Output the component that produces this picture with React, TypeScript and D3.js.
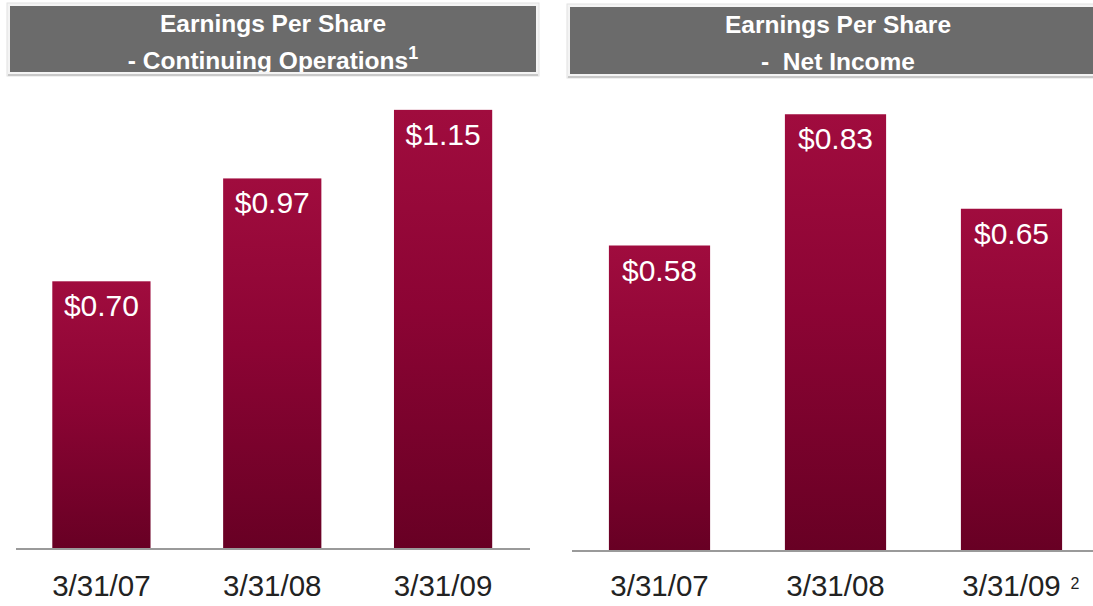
import React from 'react';
import * as d3 from 'd3';

const categories = ['3/31/07', '3/31/08', '3/31/09'];
const continuingEps = [0.7, 0.97, 1.15];
const netIncomeEps = [0.58, 0.83, 0.65];
const leftTitle = ['Earnings Per Share', '- Continuing Operations'];
const rightTitle = ['Earnings Per Share', '-\u00a0 Net Income'];

const FONT = 'Liberation Sans, Arial, Helvetica, sans-serif';

type PanelProps = {
  id: string;
  values: number[];
  xRange: [number, number];
  baseY: number;
  yMax: number;
  yTop: number;
  lineX: [number, number];
};

function Panel({ id, values, xRange, baseY, yMax, yTop, lineX }: PanelProps) {
  const x = d3.scaleBand<string>().domain(categories).range(xRange).paddingInner(0.425).paddingOuter(0.2125);
  const y = d3.scaleLinear().domain([0, yMax]).range([baseY, yTop]);
  return (
    <g>
      {categories.map((c, i) => {
        const bx = x(c)!;
        const by = y(values[i]);
        return (
          <g key={c}>
            <rect x={bx} y={by} width={x.bandwidth()} height={baseY - by} fill={`url(#grad-${id})`} />
            <text x={bx + x.bandwidth() / 2} y={by + 35} fill="#fff" fontSize={30} fontFamily={FONT} textAnchor="middle">
              {d3.format('$.2f')(values[i])}
            </text>
            <text x={bx + x.bandwidth() / 2} y={596} fill="#222" fontSize={29.5} fontFamily={FONT} textAnchor="middle">
              {c}
            </text>
          </g>
        );
      })}
      <line x1={lineX[0]} x2={lineX[1]} y1={baseY + 1} y2={baseY + 1} stroke="#9a9a9a" strokeWidth={2} />
    </g>
  );
}

function Header({ id, x0, x1, y0, y1, lines, sup, cx }: { id: string; x0: number; x1: number; y0: number; y1: number; lines: string[]; sup?: string; cx: number }) {
  return (
    <g>
      <rect x={x0 - 3} y={y0 - 3} width={x1 - x0 + 6} height={y1 - y0 + 7} fill="#f4f4f4" stroke="#e2e2e2" />
      <line x1={x0 - 2} x2={x1 + 2} y1={y1 + 3} y2={y1 + 3} stroke="#c8c8c8" strokeWidth={2} />
      <clipPath id={`clip-${id}`}>
        <rect x={x0} y={y0} width={x1 - x0} height={y1 - y0} />
      </clipPath>
      <rect x={x0} y={y0} width={x1 - x0} height={y1 - y0} fill="#6b6b6b" />
      <g clipPath={`url(#clip-${id})`} fontFamily={FONT} fontWeight="bold" fill="#fff" fontSize={24.5}>
        <text x={cx} y={y0 + 26} textAnchor="middle">{lines[0]}</text>
        <text x={cx} y={y0 + 63} textAnchor="middle">
          {lines[1]}
          {sup ? <tspan fontSize={18} dy={-10}>{sup}</tspan> : null}
        </text>
      </g>
    </g>
  );
}

export default function App() {
  return (
    <svg width={1093} height={606} style={{ position: 'absolute', left: 0, top: 0, background: '#fff' }}>
      <defs>
        {['l', 'r'].map((id) => (
          <linearGradient key={id} id={`grad-${id}`} x1="0" y1="0" x2="0" y2="1">
            <stop offset="0%" stopColor="#a00c3e" />
            <stop offset="45%" stopColor="#8c0434" />
            <stop offset="100%" stopColor="#680024" />
          </linearGradient>
        ))}
      </defs>
      <rect x={0} y={0} width={1093} height={606} fill="#fff" />
      <Header id="l" x0={10} x1={536} y0={6} y1={72} lines={leftTitle} sup="1" cx={273} />
      <Header id="r" x0={570} x1={1110} y0={7} y1={74} lines={rightTitle} cx={838} />
      <Panel id="l" values={continuingEps} xRange={[16, 528.5]} baseY={548} yMax={1.2} yTop={548 - 381 * 1.2} lineX={[16, 530]} />
      <Panel id="r" values={netIncomeEps} xRange={[571.5, 1099.5]} baseY={550} yMax={0.9} yTop={550 - 525 * 0.9} lineX={[572, 1093]} />
      <text x={1075} y={589} fontSize={16} fontFamily={FONT} fill="#222" textAnchor="middle">2</text>
    </svg>
  );
}
